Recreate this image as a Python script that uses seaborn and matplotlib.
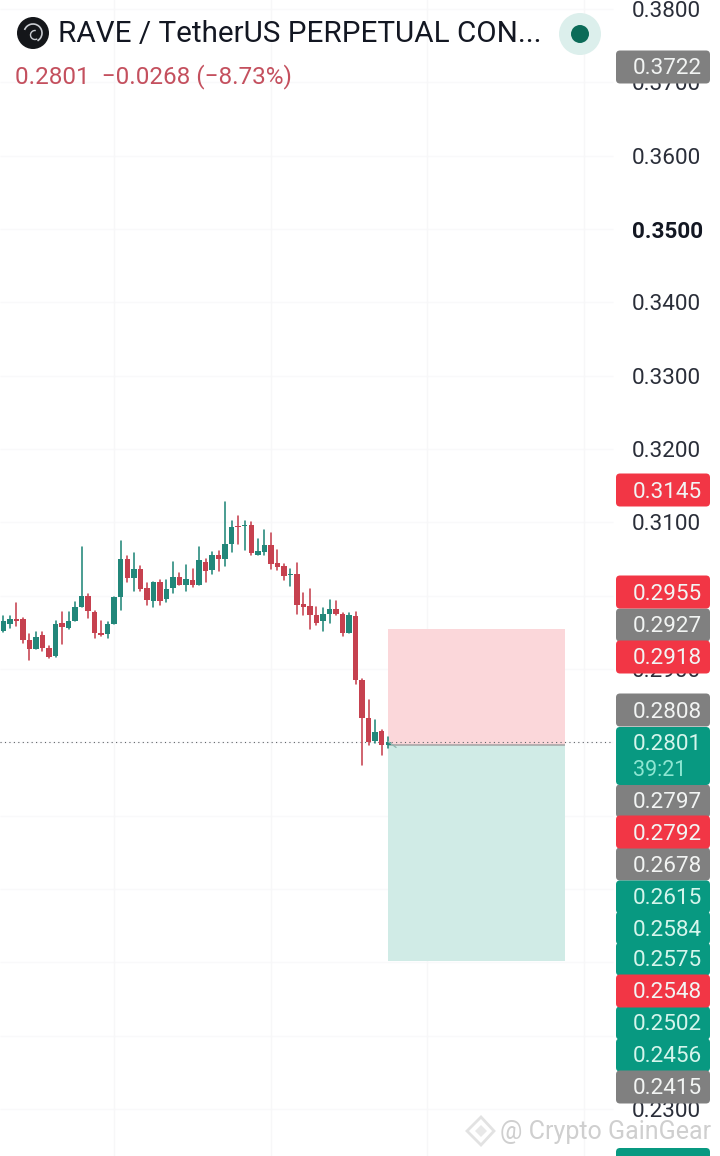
import matplotlib
matplotlib.use('Agg')
import matplotlib.pyplot as plt
from matplotlib.patches import Circle, FancyBboxPatch, Polygon, Arc
import pandas as pd
import seaborn as sns

# Candles
opens = [.2952, .2962, .2968, .2968, .2939, .2927, .2946, .2929, .2918, .2963,
         .2956, .2965, .2984, .2999, .2978, .2949, .2948, .2961, .2998, .3050,
         .3024, .3037, .3010, .2993, .3018, .2995, .3011, .3026, .3015, .3022,
         .3014, .3046, .3035, .3055, .3050, .3071, .3095, .3095, .3096, .3056,
         .3060, .3069, .3044, .3040, .3028, .3029, .2989, .2986, .2974, .2965,
         .2975, .2982, .2975, .2949, .2972, .2885, .2833, .2802, .2816, .2796]
highs = [.2972, .2972, .2990, .2969, .2948, .2950, .2951, .2931, .2965, .2978,
         .2978, .2992, .3066, .3002, .2979, .2965, .2964, .2998, .3074, .3054,
         .3058, .3040, .3017, .3018, .3021, .3021, .3046, .3031, .3042, .3037,
         .3066, .3050, .3059, .3061, .3128, .3102, .3109, .3102, .3100, .3077,
         .3089, .3086, .3062, .3043, .3037, .3045, .3003, .3009, .2984, .2983,
         .2994, .2993, .2976, .2977, .2978, .2887, .2858, .2831, .2817, .2807]
lows = [.2950, .2956, .2958, .2936, .2912, .2927, .2925, .2915, .2917, .2934,
        .2954, .2965, .2984, .2969, .2942, .2945, .2942, .2961, .2981, .3018,
        .3007, .3006, .2987, .2985, .2987, .2992, .3003, .3015, .3007, .3012,
        .3014, .3019, .3029, .3033, .3041, .3059, .3071, .3062, .3055, .3055,
        .3055, .3036, .3035, .3022, .3013, .2975, .2974, .2955, .2960, .2952,
        .2963, .2974, .2945, .2949, .2879, .2769, .2797, .2799, .2783, .2792]
closes = [.2965, .2968, .2966, .2940, .2927, .2944, .2928, .2916, .2962, .2957,
          .2965, .2984, .2999, .2979, .2949, .2947, .2961, .2998, .3050, .3024,
          .3036, .3009, .2994, .3018, .2993, .3009, .3026, .3015, .3023, .3015,
          .3048, .3034, .3055, .3050, .3071, .3093, .3093, .3096, .3058, .3061,
          .3069, .3043, .3039, .3027, .3030, .2987, .2985, .2973, .2963, .2975,
          .2982, .2975, .2949, .2973, .2885, .2833, .2801, .2814, .2796, .2801]

price_ticks = [.38, .37, .36, .35, .34, .33, .32, .31, .30, .29, .28, .27, .26, .25, .24, .23]
last_price = .2801
entry_price = .2797
stop_price = .2955
target_price = .2502

tag_labels = ['0.3722', '0.3145', '0.2955', '0.2927', '0.2918', '0.2808', '0.2797', '0.2792',
              '0.2678', '0.2615', '0.2584', '0.2575', '0.2548', '0.2502', '0.2456', '0.2415']
tag_kinds = ['grey', 'red', 'red', 'grey', 'red', 'grey', 'grey', 'red',
             'grey', 'green', 'green', 'green', 'red', 'green', 'green', 'grey']
tag_rows = [67, 490, 592, 625, 657, 710, 801, 832, 864, 897, 928, 959, 991, 1023, 1055, 1087]

GREEN = '#22877A'
RED = '#C6414F'
TAG_COLORS = {'grey': '#808080', 'red': '#F23645', 'green': '#089981'}

df = pd.DataFrame({'i': range(len(opens)), 'open': opens, 'high': highs, 'low': lows, 'close': closes})
df['up'] = df['close'] >= df['open']
df['body_low'] = df[['open', 'close']].min(axis=1)
df['body'] = (df['open'] - df['close']).abs()

sns.set_theme(style='white')
plt.rcParams['font.family'] = ['Roboto', 'DejaVu Sans']

fig = plt.figure(figsize=(7.2, 11.56), dpi=100)
ax = fig.add_axes([0, 0, 1, 1])

# Wicks
wicks = df.melt(id_vars=['i', 'up'], value_vars=['high', 'low'], value_name='price')
sns.lineplot(data=wicks, x='i', y='price', units='i', hue='up', estimator=None,
             palette={True: GREEN, False: RED}, linewidth=1.15, legend=False, ax=ax, zorder=3)

# Bodies
for is_up, color in [(True, GREEN), (False, RED)]:
    part = df[df['up'] == is_up]
    sns.barplot(data=part, x='i', y='body', bottom=part['body_low'].values, native_scale=True,
                color=color, width=0.84, errorbar=None, saturation=1, linewidth=0, ax=ax, zorder=4)

# Position box
ax.axhspan(entry_price, stop_price, xmin=(59 + .506) / 110.346, xmax=(86.08 + .506) / 110.346,
           color='#FBD7DA', lw=0, zorder=2)
ax.axhspan(target_price, entry_price, xmin=(59 + .506) / 110.346, xmax=(86.08 + .506) / 110.346,
           color='#D0EBE6', lw=0, zorder=2)
ax.hlines(entry_price, 59, 86.08, color='#A8A8A8', lw=1.2, zorder=2.5)
ax.plot([59, 60.2], [last_price, .2793], color='#8FB5AE', lw=0.9, zorder=5)

ax.hlines(last_price, -0.5, 93.44, color='#5F6368', lw=0.8, linestyles=(0, (1, 3)), zorder=2.5)
ax.hlines(price_ticks, -0.5, 93.44, color='#F9F9FA', lw=1, zorder=0.4)

ax.set_xlim(-0.506, 109.84)
ax.set_ylim(.22359, .38123)
ax.set_xticks([17, 41, 65, 89])
ax.set_xticklabels([])
ax.grid(axis='x', color='#F7F7F8', lw=1)
ax.set_axisbelow(True)
ax.set_xlabel('')
ax.set_ylabel('')
ax.yaxis.tick_right()
ax.set_yticks(price_ticks)
ax.set_yticklabels([f'{p:.4f}' for p in price_ticks])
ax.tick_params(axis='y', direction='in', length=0, pad=-63.5, labelsize=16.2, labelcolor='#2A2E39')
ax.tick_params(axis='x', length=0)
for lab, p in zip(ax.get_yticklabels(), price_ticks):
    lab.set_ha('left')
    lab.set_y(p)
    if p == .35:
        lab.set_fontweight('bold')
        lab.set_color('#131722')
sns.despine(ax=ax, left=True, bottom=True, top=True, right=True)

# Overlay in pixel units for header, price tags and watermark
ov = fig.add_axes([0, 0, 1, 1], facecolor='none')
ov.set_xlim(0, 720)
ov.set_ylim(1156, 0)
ov.axis('off')


def tag(y0, y1, color, z=6):
    ov.add_patch(FancyBboxPatch((619, y0 + 3), 88, y1 - y0 - 6, boxstyle='round,pad=3,rounding_size=4',
                                fc=color, ec='none', zorder=z))


for label, kind, row in zip(tag_labels, tag_kinds, tag_rows):
    tag(row - 16.5, row + 16.5, TAG_COLORS[kind], z=7 if kind == 'red' else 6)
    ov.text(633, row + 2, label, color='#F2F4F3' if kind != 'green' else '#D5F5EC', fontsize=16.2,
            ha='left', va='center', zorder=8)

tag(727, 785, TAG_COLORS['green'])
ov.text(633, 744, f'{last_price:.4f}', color='#D5F5EC', fontsize=16.2, ha='left', va='center', zorder=8)
ov.text(633, 770, '39:21', color='#8DE6D2', fontsize=15.5, ha='left', va='center', zorder=8)
tag(1148, 1170, TAG_COLORS['green'])

# Header
ov.add_patch(Circle((33, 33), 16, fc='#14161A', ec='none', zorder=6))
ov.add_patch(Arc((33, 33), 18, 18, theta1=200, theta2=60, color='#C9CCD1', lw=1.2, zorder=7))
ov.add_patch(Arc((35, 35), 9, 9, theta1=60, theta2=280, color='#C9CCD1', lw=1, zorder=7))
ov.text(58, 34, 'RAVE / TetherUS PERPETUAL CON...', color='#131722', fontsize=21.3, ha='left', va='center', zorder=6)
ov.text(15, 77, '0.2801  −0.0268 (−8.73%)', color='#C4505E', fontsize=17.5, ha='left', va='center', zorder=6)
ov.add_patch(Circle((580, 34), 21, fc='#DCEFEC', ec='none', zorder=6))
ov.add_patch(Circle((580, 34), 9, fc='#0B6B58', ec='none', zorder=7))

# Watermark
ov.add_patch(Polygon([(481, 1117), (494, 1131), (481, 1145), (467, 1131)], closed=True, fc='none',
                     ec='#E2E2E2', lw=2, zorder=9))
ov.add_patch(Polygon([(481, 1125), (487, 1131), (481, 1137), (475, 1131)], closed=True, fc='#E8E8E8',
                     ec='none', zorder=9))
ov.text(500, 1132, '@ Crypto GainGear', color='#CFCFCF', fontsize=18, ha='left', va='center', zorder=9)

fig.savefig('out.png', dpi=100)
